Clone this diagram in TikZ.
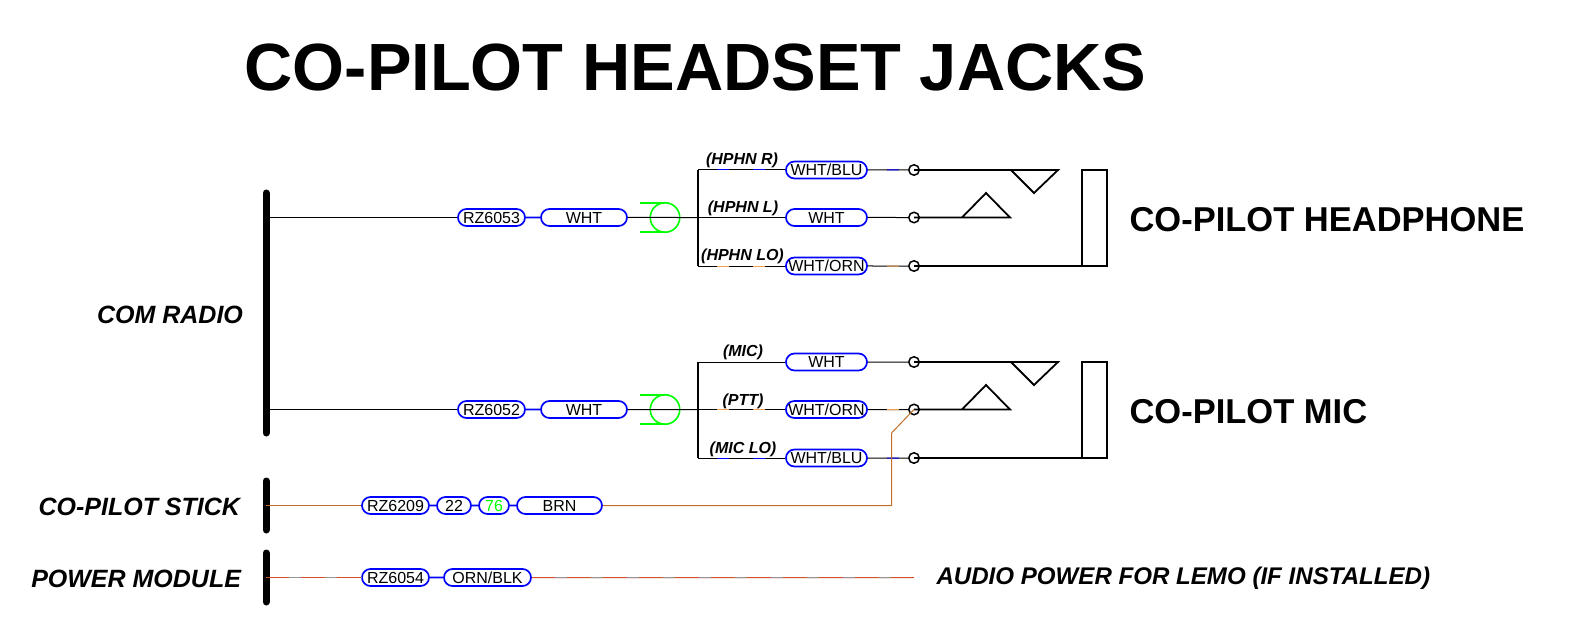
\documentclass[tikz,border=0pt]{standalone}
\usepackage{fontspec}
\setmainfont{Liberation Sans}
\usetikzlibrary{shapes.misc}
\definecolor{pillblue}{RGB}{0,0,255}
\definecolor{spligreen}{RGB}{0,255,0}
\definecolor{wirebrn}{RGB}{190,110,40}
\definecolor{wireorn}{RGB}{240,160,80}
\definecolor{wirered}{RGB}{210,80,40}
\definecolor{wiregry}{RGB}{150,150,150}
\tikzset{
  pill/.style={rounded rectangle, draw=pillblue, line width=1.7pt, minimum height=17pt, inner sep=0pt, font=\fontsize{16}{16}\selectfont},
  link/.style={draw=pillblue, line width=1.7pt},
  wire/.style={line width=1pt},
  wireB/.style={wire, postaction={draw, pillblue, dash pattern=on 12pt off 24pt, dash phase=17pt}},
  wireO/.style={wire, postaction={draw, wireorn, dash pattern=on 12pt off 24pt, dash phase=17pt}},
  wireR/.style={wire, wirered, postaction={draw, wiregry, dash pattern=on 12pt off 24pt, dash phase=13pt}},
  bus/.style={line width=7pt, line cap=round},
  lead/.style={line width=1.8pt},
  spli/.style={circle, draw=spligreen, line width=1.6pt, minimum size=29.5pt, inner sep=0pt, outer sep=0pt},
  term/.style={circle, draw, line width=1.5pt, minimum size=10.5pt, inner sep=0pt},
  sig/.style={font=\fontsize{16}{16}\selectfont\bfseries\itshape},
  src/.style={font=\fontsize{25}{25}\selectfont\bfseries\itshape},
  jack/.style={font=\fontsize{34.5}{35}\selectfont\bfseries}
}
\begin{document}
\begin{tikzpicture}[x=1pt,y=-1pt]
\useasboundingbox (0,0) rectangle (1591,623);
\node[font=\fontsize{66.8}{67}\selectfont\bfseries] (title) at (695.5,68){CO-PILOT HEADSET JACKS};

\node[src,anchor=east] (com) at (246.5,315){COM RADIO};
\node[src,anchor=east] (stick) at (243.5,507){CO-PILOT STICK};
\node[src,anchor=east] (pwr) at (244.5,578.5){POWER MODULE};
\node[jack,anchor=west] (hpname) at (1126,219.5){CO-PILOT HEADPHONE};
\node[jack,anchor=west] (mcname) at (1126,411.5){CO-PILOT MIC};
\node[font=\fontsize{24.1}{24}\selectfont\bfseries\itshape,anchor=west] (lemo) at (933,578){AUDIO POWER FOR LEMO (IF INSTALLED)};

\draw[bus] (266,193) -- (266,433);
\draw[bus] (266,481) -- (266,530);
\draw[bus] (266,553) -- (266,602);

\coordinate (busA) at (266,217.5);
\coordinate (busB) at (266,409.5);
\coordinate (busC) at (266,505.5);
\coordinate (busD) at (266,577.5);

\foreach \jj/\yy in {hp/0,mc/192} {
  \coordinate (\jj T) at (698,170+\yy);
  \coordinate (\jj M) at (698,217.5+\yy);
  \coordinate (\jj L) at (698,266+\yy);
  \node[term] (\jj tipT) at (914,170+\yy){};
  \node[term] (\jj tipM) at (914,217.5+\yy){};
  \node[term] (\jj tipL) at (914,266+\yy){};
  \coordinate (\jj endT) at (1058,170+\yy);
  \coordinate (\jj endM) at (1010,217.5+\yy);
  \coordinate (\jj box) at (1082,266+\yy);
  \draw[lead] (\jj T) -- (\jj L);
  \draw[lead] (\jj tipT.center) -- (\jj endT) -- (1034,193+\yy) -- (1011,170+\yy);
  \draw[lead] (\jj tipM.center) -- (\jj endM) -- (986,193+\yy) -- (962,217.5+\yy);
  \draw[lead] (\jj tipL.center) -- (\jj box);
  \draw[lead] (\jj box) rectangle (1107,170+\yy);
}

\node[pill,minimum width=67pt] (rzA) at (491.5,217.5){RZ6053};
\node[pill,minimum width=86pt] (whtA) at (584,217.5){WHT};
\node[spli] (spA) at (665,217.5){};
\node[pill,minimum width=81pt] (hpR) at (826.5,170){WHT/BLU};
\node[pill,minimum width=81pt] (hpW) at (826.5,217.5){WHT};
\node[pill,minimum width=81pt] (hpO) at (826.5,266){WHT/ORN};

\node[pill,minimum width=67pt] (rzB) at (491.5,409.5){RZ6052};
\node[pill,minimum width=86pt] (whtB) at (584,409.5){WHT};
\node[spli] (spB) at (665,409.5){};
\node[pill,minimum width=81pt] (mcW) at (826.5,362){WHT};
\node[pill,minimum width=81pt] (mcO) at (826.5,409.5){WHT/ORN};
\node[pill,minimum width=81pt] (mcB) at (826.5,458){WHT/BLU};

\node[pill,minimum width=67pt] (rzC) at (395.5,505.5){RZ6209};
\node[pill,minimum width=34pt] (numA) at (454,505.5){22};
\node[pill,minimum width=30pt,text=spligreen] (numB) at (494,505.5){76};
\node[pill,minimum width=85pt] (brn) at (559.5,505.5){BRN};
\node[pill,minimum width=67pt] (rzD) at (395.5,577.5){RZ6054};
\node[pill,minimum width=87pt] (orn) at (487.5,577.5){ORN/BLK};
\coordinate (lemoEnd) at (914,577.5);
\coordinate (brnA) at (891.5,505.5);
\coordinate (brnB) at (891.5,433);

\draw[wire] (busA) -- (rzA);
\draw[link] (rzA) -- (whtA);
\draw[wire] (whtA) -- (hpM);
\draw[wire] (busB) -- (rzB);
\draw[link] (rzB) -- (whtB);
\draw[wire] (whtB) -- (mcM);
\foreach \ss in {spA,spB} {
  \draw[spligreen,line width=1.6pt] (\ss.north) -- ++(-25,0);
  \draw[spligreen,line width=1.6pt] (\ss.south) -- ++(-25,0);
}

\draw[wireB] (hpT) -- (hpR);
\draw[wireB] (hpR) -- (hptipT);
\draw[wire] (hpM) -- (hpW);
\draw[wire] (hpW) -- (hptipM);
\draw[wireO] (hpL) -- (hpO);
\draw[wireO] (hpO) -- (hptipL);
\draw[wire] (mcT) -- (mcW);
\draw[wire] (mcW) -- (mctipT);
\draw[wireO] (mcM) -- (mcO);
\draw[wireO] (mcO) -- (mctipM);
\draw[wireB] (mcL) -- (mcB);
\draw[wireB] (mcB) -- (mctipL);

\draw[wirebrn,wire] (busC) -- (rzC);
\draw[link] (rzC) -- (numA);
\draw[link] (numA) -- (numB);
\draw[link] (numB) -- (brn);
\draw[wirebrn,wire] (brn) -- (brnA) -- (brnB) -- (mctipM.center);
\draw[wireR] (busD) -- (rzD);
\draw[link] (rzD) -- (orn);
\draw[wireR] (orn) -- (lemoEnd);

\node[sig] (sigA) at (742,160){(HPHN R)};
\node[sig] (sigB) at (743,208){(HPHN L)};
\node[sig] (sigC) at (742.5,256.5){(HPHN LO)};
\node[sig] (sigD) at (743,352.5){(MIC)};
\node[sig] (sigE) at (743,401){(PTT)};
\node[sig] (sigF) at (743,449){(MIC LO)};
\end{tikzpicture}
\end{document}
